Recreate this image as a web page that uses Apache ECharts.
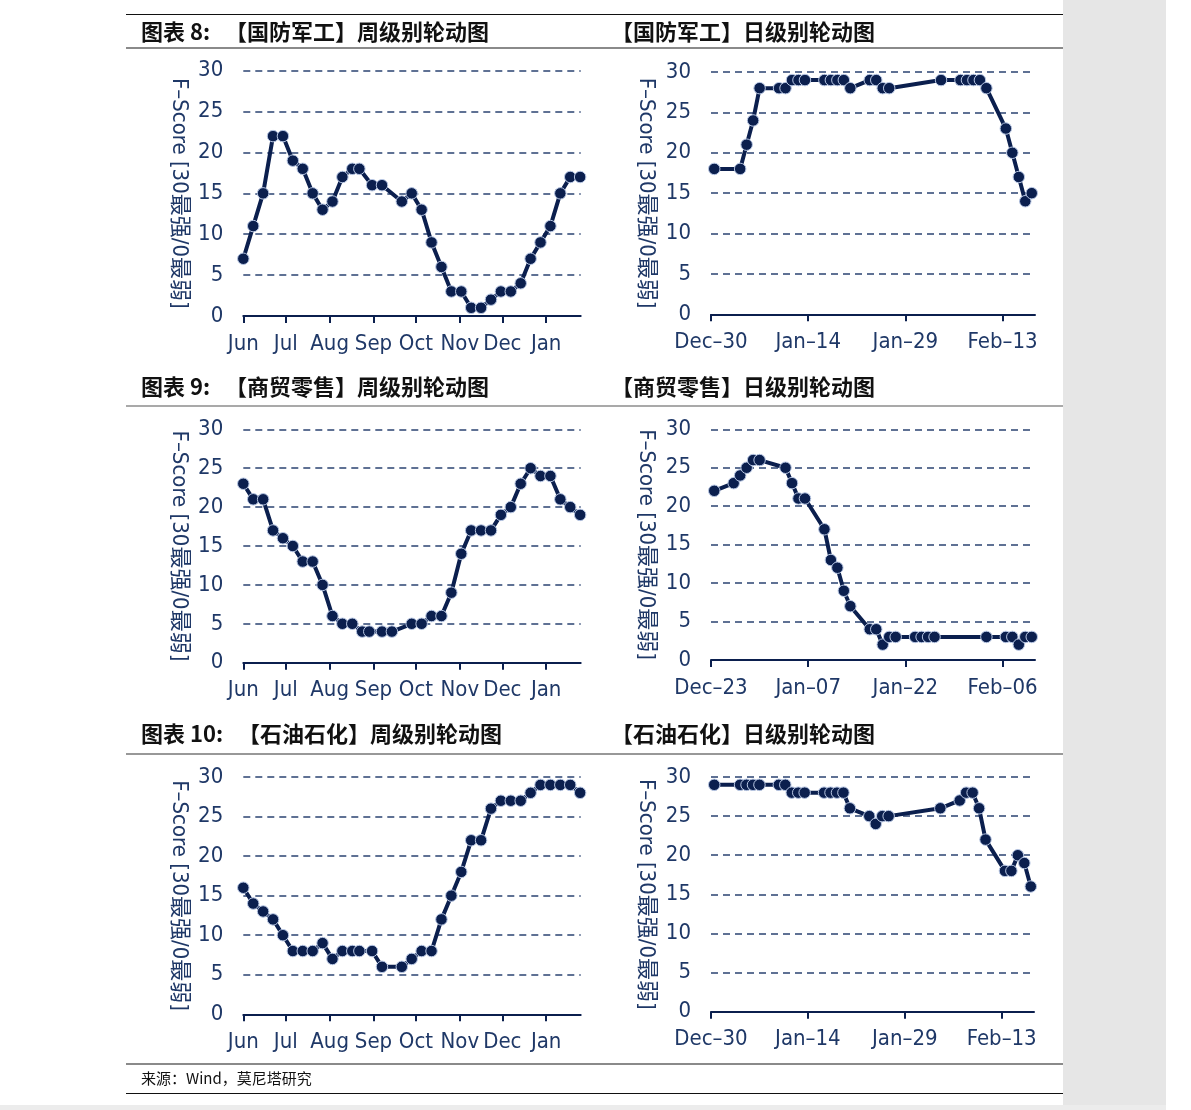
<!DOCTYPE html>
<html>
<head>
<meta charset="utf-8">
<script src="https://cdn.jsdelivr.net/npm/echarts@6/dist/echarts.min.js"></script>
<style>
  html, body { margin: 0; padding: 0; background: #fff; }
  #main { width: 1191px; height: 1110px; }
</style>
</head>
<body>
<div id="main"></div>
<script>
// weekly dates (defense / petro share one set, retail has its own)
const weekDatesA = ["2016-06-01","2016-06-08","2016-06-15","2016-06-22","2016-06-29","2016-07-06","2016-07-13","2016-07-20","2016-07-27","2016-08-03","2016-08-10","2016-08-17","2016-08-22","2016-08-31","2016-09-07","2016-09-21","2016-09-28","2016-10-05","2016-10-12","2016-10-19","2016-10-26","2016-11-02","2016-11-09","2016-11-16","2016-11-23","2016-11-30","2016-12-07","2016-12-14","2016-12-21","2016-12-28","2017-01-04","2017-01-11","2017-01-18","2017-01-25"];
const weekDatesB = ["2016-06-01","2016-06-08","2016-06-15","2016-06-22","2016-06-29","2016-07-06","2016-07-13","2016-07-20","2016-07-27","2016-08-03","2016-08-10","2016-08-17","2016-08-24","2016-08-29","2016-09-07","2016-09-14","2016-09-28","2016-10-05","2016-10-12","2016-10-19","2016-10-26","2016-11-02","2016-11-09","2016-11-16","2016-11-23","2016-11-30","2016-12-07","2016-12-14","2016-12-21","2016-12-28","2017-01-04","2017-01-11","2017-01-18","2017-01-25"];
// daily dates
const dayDatesA = ["2016-12-30","2017-01-03","2017-01-04","2017-01-05","2017-01-06","2017-01-09","2017-01-10","2017-01-11","2017-01-12","2017-01-13","2017-01-16","2017-01-17","2017-01-18","2017-01-19","2017-01-20","2017-01-23","2017-01-24","2017-01-25","2017-01-26","2017-02-03","2017-02-06","2017-02-07","2017-02-08","2017-02-09","2017-02-10","2017-02-13","2017-02-14","2017-02-15","2017-02-16","2017-02-17"];
const dayDatesB = ["2016-12-23","2016-12-26","2016-12-27","2016-12-28","2016-12-29","2016-12-30","2017-01-03","2017-01-04","2017-01-05","2017-01-06","2017-01-09","2017-01-10","2017-01-11","2017-01-12","2017-01-13","2017-01-16","2017-01-17","2017-01-18","2017-01-19","2017-01-20","2017-01-23","2017-01-24","2017-01-25","2017-01-26","2017-02-03","2017-02-06","2017-02-07","2017-02-08","2017-02-09","2017-02-10"];

// F-Score values
const defenseWeek = [7,11,15,22,22,19,18,15,13,14,17,18,18,16,16,14,15,13,9,6,3,3,1,1,2,3,3,4,7,9,11,15,17,17];
const defenseDay = [18,18,21,24,28,28,28,29,29,29,29,29,29,29,28,29,29,28,28,29,29,29,29,29,28,23,20,17,14,15];
const retailWeek = [23,21,21,17,16,15,13,13,10,6,5,5,4,4,4,4,5,5,6,6,9,14,17,17,17,19,20,23,25,24,24,21,20,19];
const retailDay = [22,23,24,25,26,26,25,23,21,21,17,13,12,9,7,4,4,2,3,3,3,3,3,3,3,3,3,2,3,3];
const petroWeek = [16,14,13,12,10,8,8,8,9,7,8,8,8,8,6,6,7,8,8,12,15,18,22,22,26,27,27,27,28,29,29,29,29,28];
const petroDay = [29,29,29,29,29,29,29,28,28,28,28,28,28,28,26,25,24,25,25,26,27,28,28,26,22,18,18,20,19,16];

// tick labels
const monthTicks = ["2016-06-01","2016-07-01","2016-08-01","2016-09-01","2016-10-01","2016-11-01","2016-12-01","2017-01-01"];
const monthLabels = ["Jun","Jul","Aug","Sep","Oct","Nov","Dec","Jan"];
const dayTicksA = ["2016-12-30","2017-01-14","2017-01-29","2017-02-13"];
const dayLabelsA = ["Dec–30","Jan–14","Jan–29","Feb–13"];
const dayTicksB = ["2016-12-23","2017-01-07","2017-01-22","2017-02-06"];
const dayLabelsB = ["Dec–23","Jan–07","Jan–22","Feb–06"];
const yTitle = "F–Score [30最强/0最弱]";

const NAVY = "#0b1f4e";
const TEXT = "#1f3867";
const FONT = '"Liberation Sans Narrow", "DejaVu Sans Condensed", "Noto Sans CJK SC", sans-serif';
const CJK = '"Noto Sans CJK SC", sans-serif';

// day number (UTC based, so no DST drift)
function dayNum(s) {
  const p = s.split("-").map(Number);
  return Date.UTC(p[0], p[1] - 1, p[2]) / 86400000;
}

const grids = [
  { left: 243.3, top: 70.7, width: 337.4, height: 245.3 },
  { left: 711, top: 72, width: 324, height: 242.3 },
  { left: 243.3, top: 429.3, width: 337.4, height: 233.4 },
  { left: 711, top: 429.3, width: 324, height: 230.7 },
  { left: 243.3, top: 777, width: 337.4, height: 237.3 },
  { left: 711, top: 777, width: 323, height: 234.7 }
].map(g => Object.assign({ outerBoundsMode: "none" }, g));

function xAxisFor(gi, ticks, labels, min, max) {
  const tv = ticks.map(dayNum);
  return {
    type: "value",
    gridIndex: gi,
    min: min,
    max: max,
    axisLine: { show: true, lineStyle: { color: NAVY, width: 2 } },
    axisTick: { show: true, customValues: tv, length: 7, lineStyle: { color: NAVY, width: 2 } },
    axisLabel: {
      customValues: tv,
      margin: 17,
      fontSize: 22,
      fontFamily: FONT,
      color: TEXT,
      formatter: function (v) {
        for (let i = 0; i < tv.length; i++) if (Math.abs(tv[i] - v) < 0.01) return labels[i];
        return "";
      }
    },
    splitLine: { show: false }
  };
}

function yAxisFor(gi) {
  return {
    type: "value",
    gridIndex: gi,
    min: 0,
    max: 30,
    interval: 5,
    axisLine: { show: false },
    axisTick: { show: false },
    axisLabel: { margin: 20, fontSize: 22, fontFamily: FONT, color: TEXT },
    splitLine: { show: true, lineStyle: { type: [7, 5], color: "#2b4372", width: 1.5 } },
    name: yTitle,
    nameLocation: "middle",
    nameRotate: -90,
    nameGap: 54,
    nameTextStyle: { fontSize: 22, fontFamily: FONT, color: TEXT }
  };
}

function lineSeries(gi, dates, values, shift) {
  return {
    type: "line",
    xAxisIndex: gi,
    yAxisIndex: gi,
    data: dates.map((d, i) => [dayNum(d) + shift, values[i]]),
    symbol: "circle",
    symbolSize: 11.5,
    showAllSymbol: true,
    itemStyle: { color: NAVY, borderColor: "#b8c7e4", borderWidth: 1 },
    lineStyle: { color: NAVY, width: 4 },
    silent: true
  };
}

const weekMin = dayNum("2016-06-01");
const weekMax = dayNum("2017-01-25") + 0.4;

const xAxes = [
  xAxisFor(0, monthTicks, monthLabels, weekMin, weekMax),
  xAxisFor(1, dayTicksA, dayLabelsA, dayNum("2016-12-30"), dayNum("2017-02-18")),
  xAxisFor(2, monthTicks, monthLabels, weekMin, weekMax),
  xAxisFor(3, dayTicksB, dayLabelsB, dayNum("2016-12-23"), dayNum("2017-02-11")),
  xAxisFor(4, monthTicks, monthLabels, weekMin, weekMax),
  xAxisFor(5, dayTicksA, dayLabelsA, dayNum("2016-12-30"), dayNum("2017-02-18"))
];
const yAxes = [0, 1, 2, 3, 4, 5].map(yAxisFor);

const series = [
  lineSeries(0, weekDatesA, defenseWeek, 0),
  lineSeries(1, dayDatesA, defenseDay, 0.5),
  lineSeries(2, weekDatesB, retailWeek, 0),
  lineSeries(3, dayDatesB, retailDay, 0.5),
  lineSeries(4, weekDatesA, petroWeek, 0),
  lineSeries(5, dayDatesA, petroDay, 0.5)
];

function hLine(y, color, w) {
  return { type: "line", shape: { x1: 126, y1: y, x2: 1063, y2: y }, style: { stroke: color, lineWidth: w }, silent: true };
}
function title(x, y, text) {
  return { type: "text", x: x, y: y, style: { text: text, fontSize: 22, fontWeight: "bold", fontFamily: CJK, fill: "#111", verticalAlign: "middle" }, silent: true };
}

const graphic = [
  { type: "rect", shape: { x: 1063, y: 0, width: 103, height: 1110 }, style: { fill: "#e6e6e6" }, silent: true },
  { type: "rect", shape: { x: 0, y: 1105, width: 1166, height: 5 }, style: { fill: "#ececec" }, silent: true },
  hLine(14.5, "#111", 1.2),
  hLine(48, "#8a8a8a", 2),
  hLine(406, "#555", 1.2),
  hLine(754, "#333", 1.2),
  hLine(1064, "#8a8a8a", 2),
  hLine(1093.5, "#111", 1.2),
  title(141, 32, "图表 8:"),
  title(225, 32, "【国防军工】周级别轮动图"),
  title(611, 32, "【国防军工】日级别轮动图"),
  title(141, 387, "图表 9:"),
  title(225, 387, "【商贸零售】周级别轮动图"),
  title(611, 387, "【商贸零售】日级别轮动图"),
  title(141, 734, "图表 10:"),
  title(238, 734, "【石油石化】周级别轮动图"),
  title(611, 734, "【石油石化】日级别轮动图"),
  { type: "text", x: 141, y: 1078, style: { text: "来源：Wind，莫尼塔研究", fontSize: 15, fontFamily: CJK, fill: "#111", verticalAlign: "middle" }, silent: true }
];

const chart = echarts.init(document.getElementById("main"));
chart.setOption({
  animation: false,
  backgroundColor: "#fff",
  grid: grids,
  xAxis: xAxes,
  yAxis: yAxes,
  series: series,
  graphic: graphic
});
</script>
</body>
</html>
